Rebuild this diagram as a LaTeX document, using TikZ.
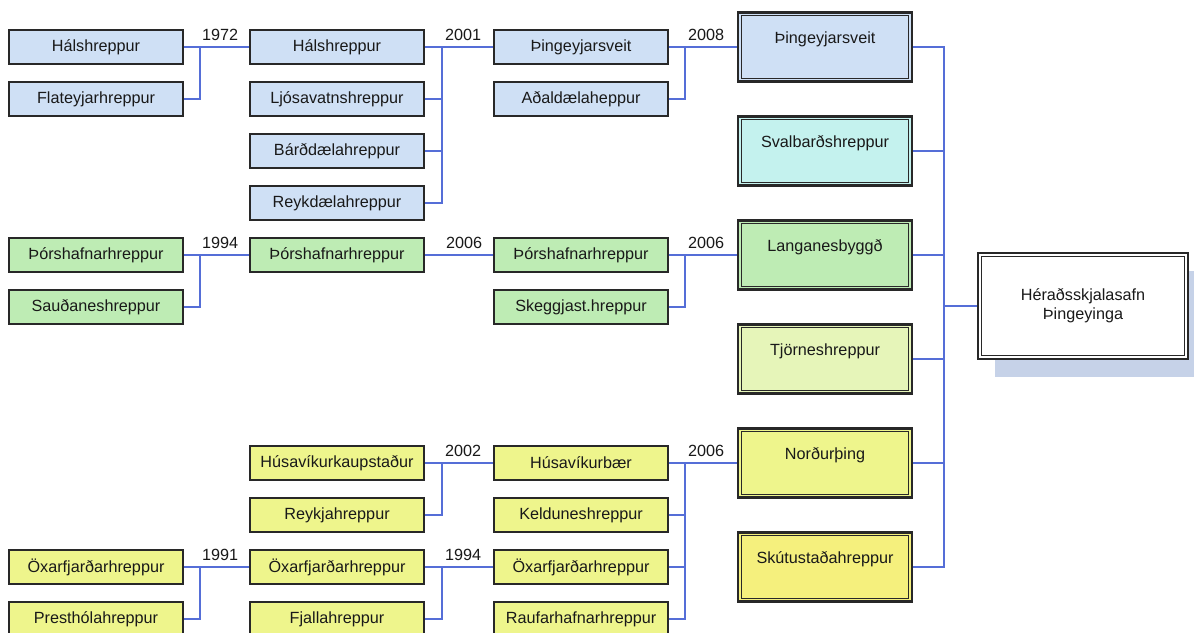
\documentclass[tikz,border=0pt]{standalone}
\usepackage{fontspec}
\setmainfont{Liberation Sans}
\usetikzlibrary{shadows}
\definecolor{bord}{RGB}{40,40,40}
\definecolor{txt}{RGB}{25,25,25}
\definecolor{lineblue}{RGB}{85,110,215}
\definecolor{cblue}{RGB}{207,224,245}
\definecolor{ccyan}{RGB}{196,242,238}
\definecolor{cgreen}{RGB}{190,236,180}
\definecolor{clyg}{RGB}{230,245,185}
\definecolor{cyel}{RGB}{238,245,140}
\definecolor{cyel2}{RGB}{245,240,125}
\definecolor{shadowc}{RGB}{198,210,232}
\begin{document}
\begin{tikzpicture}[x=1pt,y=-1pt,
  every node/.style={font=\fontsize{16.2}{19}\selectfont, text=txt},
  sbox/.style={draw=bord, line width=1.5pt, minimum width=174pt, minimum height=34pt, inner sep=0pt},
  bbox/.style={draw=bord, line width=2.5pt, minimum width=174pt, minimum height=69pt, inner sep=0pt},
  conn/.style={draw=lineblue, line width=1.3pt},
  yr/.style={anchor=base west, inner sep=0pt}
]
\useasboundingbox (0,0) rectangle (1194,632);
\clip (0,0) rectangle (1194,632);
\fill[white] (0,0) rectangle (1194,632);

% top block
\node[sbox,fill=cblue] (a1) at (96,47) {Hálshreppur};
\node[sbox,fill=cblue] (a2) at (96,99) {Flateyjarhreppur};
\node[sbox,fill=cblue] (b1) at (337,47) {Hálshreppur};
\node[sbox,fill=cblue] (b2) at (337,99) {Ljósavatnshreppur};
\node[sbox,fill=cblue] (b3) at (337,151) {Bárðdælahreppur};
\node[sbox,fill=cblue] (b4) at (337,203) {Reykdælahreppur};
\node[sbox,fill=cblue] (c1) at (581,47) {Þingeyjarsveit};
\node[sbox,fill=cblue] (c2) at (581,99) {Aðaldælaheppur};

% middle block
\node[sbox,fill=cgreen] (a5) at (96,255) {Þórshafnarhreppur};
\node[sbox,fill=cgreen] (a6) at (96,307) {Sauðaneshreppur};
\node[sbox,fill=cgreen] (b5) at (337,255) {Þórshafnarhreppur};
\node[sbox,fill=cgreen] (c5) at (581,255) {Þórshafnarhreppur};
\node[sbox,fill=cgreen] (c6) at (581,307) {Skeggjast.hreppur};

% bottom block
\node[sbox,fill=cyel] (b9) at (337,463) {Húsavíkurkaupstaður};
\node[sbox,fill=cyel] (b10) at (337,515) {Reykjahreppur};
\node[sbox,fill=cyel] (c9) at (581,463) {Húsavíkurbær};
\node[sbox,fill=cyel] (c10) at (581,515) {Kelduneshreppur};
\node[sbox,fill=cyel] (a11) at (96,567) {Öxarfjarðarhreppur};
\node[sbox,fill=cyel] (a12) at (96,619) {Presthólahreppur};
\node[sbox,fill=cyel] (b11) at (337,567) {Öxarfjarðarhreppur};
\node[sbox,fill=cyel] (b12) at (337,619) {Fjallahreppur};
\node[sbox,fill=cyel] (c11) at (581,567) {Öxarfjarðarhreppur};
\node[sbox,fill=cyel] (c12) at (581,619) {Raufarhafnarhreppur};

% big boxes
\node[bbox,fill=cblue] (B1) at (825,47) {};
\node[bbox,fill=ccyan] (B2) at (825,151) {};
\node[bbox,fill=cgreen] (B3) at (825,255) {};
\node[bbox,fill=clyg] (B4) at (825,359) {};
\node[bbox,fill=cyel] (B5) at (825,463) {};
\node[bbox,fill=cyel2] (B6) at (825,567) {};
\node[bbox,fill=white,minimum width=210pt,minimum height=106pt,
      drop shadow={shadow xshift=17pt,shadow yshift=-18pt,fill=shadowc,opacity=1}] (F) at (1083,306) {};

\foreach \n in {B1,B2,B3,B4,B5,B6,F}
  \draw[draw=bord,line width=1.3pt] ([xshift=4.5pt,yshift=-4.5pt]\n.north west) rectangle ([xshift=-4.5pt,yshift=4.5pt]\n.south east);

\node (B1t) at ([yshift=8pt]B1.center) {Þingeyjarsveit};
\node (B2t) at ([yshift=8pt]B2.center) {Svalbarðshreppur};
\node (B3t) at ([yshift=8pt]B3.center) {Langanesbyggð};
\node (B4t) at ([yshift=8pt]B4.center) {Tjörneshreppur};
\node (B5t) at ([yshift=8pt]B5.center) {Norðurþing};
\node (B6t) at ([yshift=8pt]B6.center) {Skútustaðahreppur};
\node[align=center] (Ft) at (F.center) {Héraðsskjalasafn\\Þingeyinga};

% junctions
\coordinate (j1) at (200,47);
\coordinate (j2) at (442,47);
\coordinate (j3) at (685,47);
\coordinate (j4) at (200,255);
\coordinate (j5) at (685,255);
\coordinate (j6) at (442,463);
\coordinate (j7) at (200,567);
\coordinate (j8) at (442,567);
\coordinate (j9) at (685,463);
\coordinate (jf) at (944,306);

% connectors
\draw[conn] (a1.east) -- (b1.west);
\draw[conn] (a2.east) -| (j1);
\draw[conn] (b1.east) -- (c1.west);
\foreach \n in {b2,b3,b4} \draw[conn] (\n.east) -| (j2);
\draw[conn] (c1.east) -- (B1.west);
\draw[conn] (c2.east) -| (j3);

\draw[conn] (a5.east) -- (b5.west);
\draw[conn] (a6.east) -| (j4);
\draw[conn] (b5.east) -- (c5.west);
\draw[conn] (c5.east) -- (B3.west);
\draw[conn] (c6.east) -| (j5);

\draw[conn] (b9.east) -- (c9.west);
\draw[conn] (b10.east) -| (j6);
\draw[conn] (a11.east) -- (b11.west);
\draw[conn] (a12.east) -| (j7);
\draw[conn] (b11.east) -- (c11.west);
\draw[conn] (b12.east) -| (j8);
\draw[conn] (c9.east) -- (B5.west);
\foreach \n in {c10,c11,c12} \draw[conn] (\n.east) -| (j9);

\foreach \n in {B1,B2,B3,B4,B5,B6} \draw[conn] (\n.east) -| (jf);
\draw[conn] (jf) -- (F.west);

% years
\node[yr] (y1) at (202,40) {1972};
\node[yr] (y2) at (445,40) {2001};
\node[yr] (y3) at (688,40) {2008};
\node[yr] (y4) at (202,248) {1994};
\node[yr] (y5) at (446,248) {2006};
\node[yr] (y6) at (688,248) {2006};
\node[yr] (y7) at (445,456) {2002};
\node[yr] (y8) at (202,560) {1991};
\node[yr] (y9) at (445,560) {1994};
\node[yr] (y10) at (688,456) {2006};
\end{tikzpicture}
\end{document}
